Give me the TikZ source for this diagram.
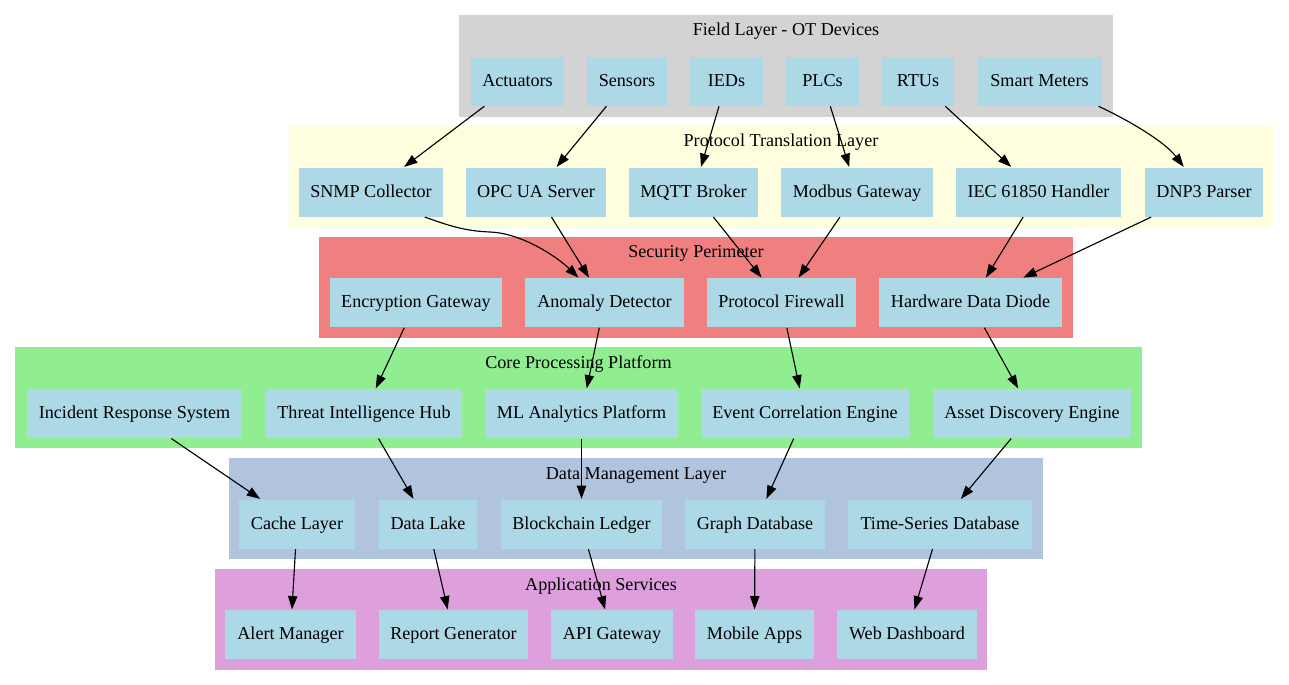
\documentclass[tikz,border=0pt]{standalone}
\usepackage{fontspec}
\setmainfont{Liberation Serif}
\usetikzlibrary{arrows.meta}

\definecolor{devblue}{HTML}{ADD8E6}
\definecolor{fieldgray}{HTML}{D3D3D3}
\definecolor{protoyellow}{HTML}{FFFFE0}
\definecolor{seccoral}{HTML}{F08080}
\definecolor{coregreen}{HTML}{90EE90}
\definecolor{datasteel}{HTML}{B0C4DE}
\definecolor{appplum}{HTML}{DDA0DD}

\tikzset{
	dev/.style={fill=devblue,minimum height=36.75pt,inner sep=0pt,text height=10.5pt,text depth=3pt,font=\fontsize{13.6}{16}\selectfont},
	wd/.style={minimum width=#1*0.75pt},
	lbl/.style={inner sep=0pt,text height=10.5pt,text depth=3pt,font=\fontsize{13.6}{16}\selectfont}
}

\begin{document}
\begin{tikzpicture}[x=0.75pt,y=-0.75pt,>={Triangle[length=10pt,width=7pt]},line width=0.85pt]
	\useasboundingbox (0,0) rectangle (1289,685);

	% layers
	\fill[fieldgray] (459,15) rectangle (1113,117);
	\fill[protoyellow] (289,126) rectangle (1273,228);
	\fill[seccoral] (319,237) rectangle (1073,338);
	\fill[coregreen] (15,347) rectangle (1142,448);
	\fill[datasteel] (229,458) rectangle (1043,559);
	\fill[appplum] (215,569) rectangle (987,670);

	\node(tfield)[lbl] at (786,30.7){Field Layer - OT Devices};
	\node(tproto)[lbl] at (781,141.7){Protocol Translation Layer};
	\node(tsec)[lbl] at (696,252.5){Security Perimeter};
	\node(tcore)[lbl] at (578.5,363.3){Core Processing Platform};
	\node(tdata)[lbl] at (636,474){Data Management Layer};
	\node(tapp)[lbl] at (601,585){Application Services};

	% field devices
	\node(act)[dev,wd=93] at (517.5,81.2){Actuators};
	\node(sen)[dev,wd=80] at (627,81.2){Sensors};
	\node(ied)[dev,wd=73] at (726.5,81.2){IEDs};
	\node(plc)[dev,wd=73] at (822.5,81.2){PLCs};
	\node(rtu)[dev,wd=72] at (918,81.2){RTUs};
	\node(smt)[dev,wd=124] at (1039.5,81.2){Smart Meters};

	% protocol translation
	\node(snmp)[dev,wd=144] at (371,192){SNMP Collector};
	\node(opc)[dev,wd=140] at (536,192){OPC UA Server};
	\node(mqtt)[dev,wd=129] at (693.5,192){MQTT Broker};
	\node(modbus)[dev,wd=152] at (857,192){Modbus Gateway};
	\node(iec)[dev,wd=165] at (1038.5,192){IEC 61850 Handler};
	\node(dnp)[dev,wd=118] at (1204,192){DNP3 Parser};

	% security
	\node(enc)[dev,wd=172] at (416,302.7){Encryption Gateway};
	\node(anom)[dev,wd=159] at (604.5,302.7){Anomaly Detector};
	\node(fw)[dev,wd=149] at (781.5,302.7){Protocol Firewall};
	\node(hdd)[dev,wd=183] at (970.5,302.7){Hardware Data Diode};

	% core processing
	\node(inc)[dev,wd=215] at (134.5,413.5){Incident Response System};
	\node(thr)[dev,wd=196] at (364,413.5){Threat Intelligence Hub};
	\node(ml)[dev,wd=193] at (581.5,413.5){ML Analytics Platform};
	\node(evt)[dev,wd=208] at (805,413.5){Event Correlation Engine};
	\node(ast)[dev,wd=198] at (1032,413.5){Asset Discovery Engine};

	% data management
	\node(cache)[dev,wd=116] at (297,524){Cache Layer};
	\node(lake)[dev,wd=98] at (428,524){Data Lake};
	\node(chain)[dev,wd=161] at (581.5,524){Blockchain Ledger};
	\node(graph)[dev,wd=140] at (755,524){Graph Database};
	\node(tsdb)[dev,wd=184] at (940,524){Time-Series Database};

	% applications
	\node(alert)[dev,wd=131] at (290.5,634.5){Alert Manager};
	\node(report)[dev,wd=149] at (453.5,634.5){Report Generator};
	\node(api)[dev,wd=122] at (612,634.5){API Gateway};
	\node(mobile)[dev,wd=119] at (754.5,634.5){Mobile Apps};
	\node(web)[dev,wd=140] at (907,634.5){Web Dashboard};

	\path[->]	(act) edge (snmp)
			(sen) edge (opc)
			(ied) edge (mqtt)
			(plc) edge (modbus)
			(rtu) edge (iec)
			(opc) edge (anom)
			(mqtt) edge (fw)
			(modbus) edge (fw)
			(iec) edge (hdd)
			(dnp) edge (hdd)
			(enc) edge (thr)
			(anom) edge (ml)
			(fw) edge (evt)
			(hdd) edge (ast)
			(inc) edge (cache)
			(thr) edge (lake)
			(ml) edge (chain)
			(evt) edge (graph)
			(ast) edge (tsdb)
			(cache) edge (alert)
			(lake) edge (report)
			(chain) edge (api)
			(graph) edge (mobile)
			(tsdb) edge (web);
	\draw[->] (smt.-23) .. controls (1130,121) and (1165,142) .. (dnp.129);
	\draw[->] (snmp.-25) .. controls (450,226) and (465,231) .. (490,232)
		.. controls (520,233) and (555,255) .. (anom.136);
\end{tikzpicture}
\end{document}
